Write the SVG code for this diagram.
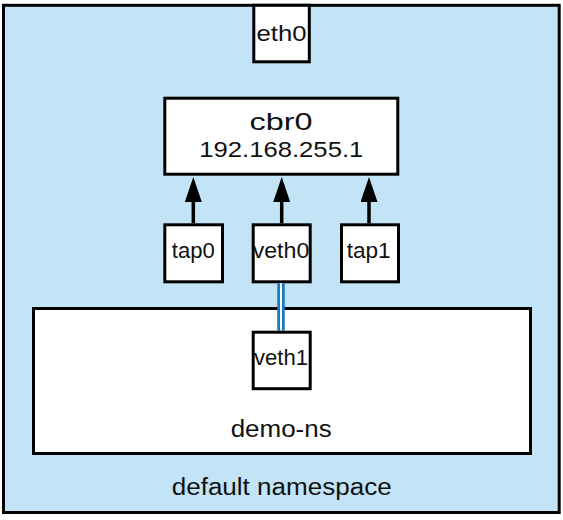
<svg xmlns="http://www.w3.org/2000/svg" width="563" height="520" viewBox="0 0 563 520">
  <style>
    .box { fill: #ffffff; stroke: #000000; stroke-width: 3; }
    .lbl { font-family: "Liberation Sans", Arial, sans-serif; fill: #111111; text-anchor: middle; }
    .arrow { stroke: #000000; stroke-width: 3.5; fill: none; }
  </style>
  <defs>
    <marker id="head" viewBox="0 0 25 17" refX="0" refY="8.5" markerWidth="25" markerHeight="17" markerUnits="userSpaceOnUse" orient="auto">
      <path d="M0,0 L25,8.5 L0,17 z" fill="#000000"/>
    </marker>
  </defs>

  <g id="default-namespace">
    <rect x="3.5" y="5.3" width="555.7" height="507.2" fill="#c3e4f6" stroke="#000000" stroke-width="3"/>
    <text class="lbl" x="281.7" y="495" font-size="23" textLength="220" lengthAdjust="spacingAndGlyphs">default namespace</text>
  </g>

  <g id="demo-ns">
    <rect class="box" x="33.5" y="308.5" width="497" height="145"/>
    <text class="lbl" x="281.2" y="437" font-size="23" textLength="101" lengthAdjust="spacingAndGlyphs">demo-ns</text>
  </g>

  <g id="eth0">
    <rect class="box" x="253.8" y="5.3" width="55.5" height="56.5"/>
    <text class="lbl" x="281.5" y="40.5" font-size="22" textLength="50" lengthAdjust="spacingAndGlyphs">eth0</text>
  </g>

  <g id="cbr0">
    <rect class="box" x="164.8" y="98.2" width="233" height="76"/>
    <text class="lbl" x="281" y="130" font-size="24" textLength="63" lengthAdjust="spacingAndGlyphs">cbr0</text>
    <text class="lbl" x="281.3" y="157.3" font-size="22" textLength="164" lengthAdjust="spacingAndGlyphs">192.168.255.1</text>
  </g>

  <g id="tap0">
    <rect class="box" x="164.8" y="224.8" width="57.7" height="57"/>
    <text class="lbl" x="193.3" y="258.3" font-size="22" textLength="43" lengthAdjust="spacingAndGlyphs">tap0</text>
  </g>

  <g id="veth0">
    <rect class="box" x="253.2" y="224.8" width="57" height="57"/>
    <text class="lbl" x="281" y="258.3" font-size="22" textLength="56.6" lengthAdjust="spacingAndGlyphs">veth0</text>
  </g>

  <g id="tap1">
    <rect class="box" x="341.5" y="224.8" width="57" height="57"/>
    <text class="lbl" x="368.7" y="258.3" font-size="22" textLength="44" lengthAdjust="spacingAndGlyphs">tap1</text>
  </g>

  <g id="connectors">
    <line class="arrow" x1="193.3" y1="223.3" x2="193.3" y2="202" marker-end="url(#head)"/>
    <line class="arrow" x1="281.7" y1="223.3" x2="281.7" y2="202" marker-end="url(#head)"/>
    <line class="arrow" x1="369" y1="223.3" x2="369" y2="202" marker-end="url(#head)"/>
    <line x1="281" y1="283.3" x2="281" y2="330.7" stroke="#1a7bbd" stroke-width="7.5"/>
    <line x1="281" y1="283.3" x2="281" y2="330.7" stroke="#ffffff" stroke-width="2"/>
  </g>

  <g id="veth1">
    <rect class="box" x="253.2" y="332.2" width="57" height="56.5"/>
    <text class="lbl" x="281" y="365" font-size="22" textLength="54" lengthAdjust="spacingAndGlyphs">veth1</text>
  </g>
</svg>
